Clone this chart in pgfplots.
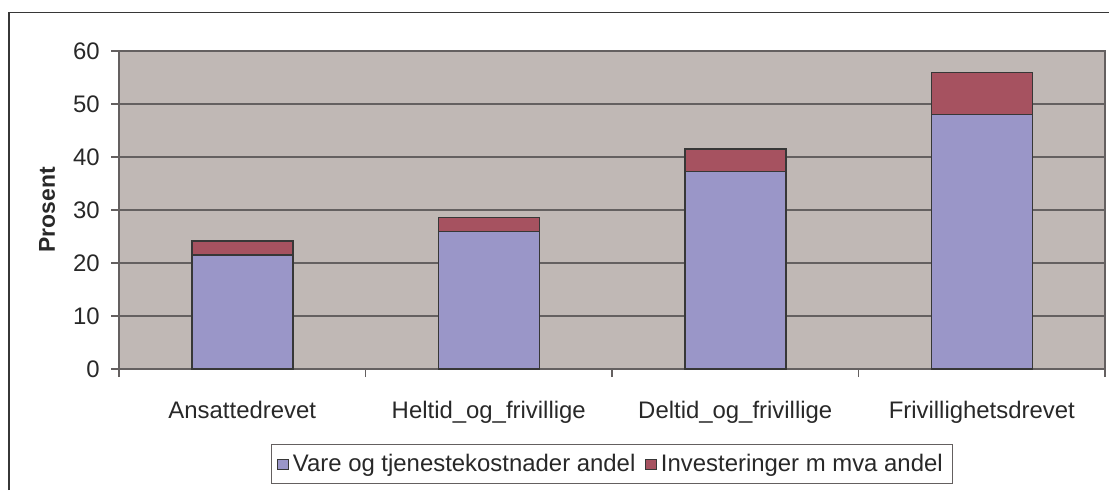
\documentclass[border=0pt]{standalone}
\usepackage{fontspec}
\setmainfont{Liberation Sans}
\usepackage{pgfplots}
\pgfplotsset{compat=1.18}
\definecolor{bgc}{RGB}{192,184,181}
\definecolor{purp}{RGB}{154,150,200}
\definecolor{redc}{RGB}{166,82,96}
\definecolor{txt}{RGB}{40,40,40}
\definecolor{gridc}{RGB}{100,96,96}
\definecolor{edgec}{RGB}{55,55,55}
\begin{document}
\fontsize{12}{14}\selectfont
\begin{tikzpicture}[x=1bp,y=1bp]
\useasboundingbox (0,0) rectangle (554.5,-245);
\draw[line width=0.8bp, color=edgec] (4.5,-245) -- (4.5,-6.3) -- (554.5,-6.3);
\begin{axis}[
  at={(59.5bp,-184.5bp)}, anchor=south west,
  scale only axis, width=493bp, height=159bp,
  ybar stacked, bar width=50.5bp,
  xmin=-0.5, xmax=3.5, ymin=0, ymax=60,
  ytick={0,10,...,60},
  xtick={0,1,2,3},
  xticklabels={Ansattedrevet,Heltid\_og\_frivillige,Deltid\_og\_frivillige,Frivillighetsdrevet},
  minor xtick={-0.5,0.5,1.5,2.5,3.5},
  major x tick style={draw=none},
  tick align=outside,
  major tick length=4bp, minor tick length=4bp,
  tick style={color=gridc, line width=0.6bp},
  xtick pos=bottom, ytick pos=left,
  ymajorgrids, grid style={color=gridc, line width=0.6bp},
  axis background/.style={fill=bgc},
  axis line style={color=gridc, line width=0.6bp},
  /pgf/number format/assume math mode=true,
  ticklabel style={font=\fontsize{12}{14}\selectfont, text=txt},
  yticklabel style={anchor=east, inner sep=0pt, xshift=-5.5bp},
  xticklabel style={anchor=base, inner sep=0pt, yshift=-20.5bp},
  ylabel={\bfseries Prosent},
  ylabel style={font=\fontsize{11.5}{13}\selectfont, text=txt, at={(axis description cs:-0.073,0.5)}, anchor=center, inner sep=0pt},
  legend style={at={(0.5,-0.3)}, anchor=center, legend columns=2, draw=gridc, line width=0.5bp,
    font=\fontsize{12}{14}\selectfont, text=txt, inner xsep=3bp, inner ysep=2.5bp,
    /tikz/every even column/.append style={column sep=3bp}},
  legend image code/.code={\draw[#1, line width=0.4bp] (0bp,-2.7bp) rectangle (5.4bp,2.7bp);},
  legend cell align=left,
  every axis plot/.append style={draw=edgec, line width=0.75bp},
]
\addplot[fill=purp, draw=edgec] coordinates {(0,21.5) (1,25.9) (2,37.3) (3,48.0)};
\addplot[fill=redc, draw=edgec] coordinates {(0,2.7) (1,2.7) (2,4.2) (3,7.9)};
\legend{Vare og tjenestekostnader andel, Investeringer m mva andel}
\end{axis}
\end{tikzpicture}
\end{document}
